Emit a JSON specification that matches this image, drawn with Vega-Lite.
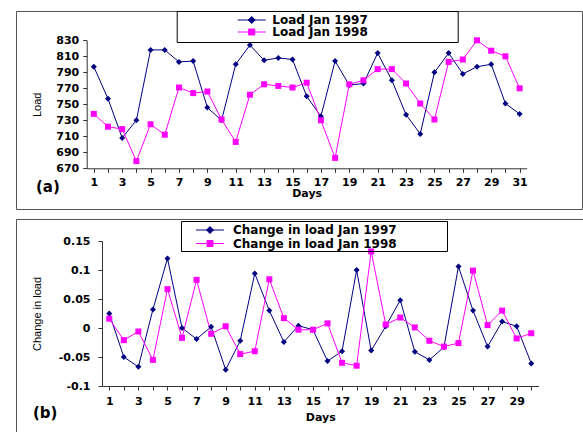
{
  "$schema": "https://vega.github.io/schema/vega-lite/v6.json",
  "background": "white",
  "padding": {"left": 15, "top": 10, "right": 0, "bottom": 0},
  "spacing": 10,
  "bounds": "flush",
  "datasets": {
    "load": [
      {"day": 1, "series": "Load Jan 1997", "load": 797}, {"day": 2, "series": "Load Jan 1997", "load": 757},
      {"day": 3, "series": "Load Jan 1997", "load": 708}, {"day": 4, "series": "Load Jan 1997", "load": 730},
      {"day": 5, "series": "Load Jan 1997", "load": 818}, {"day": 6, "series": "Load Jan 1997", "load": 818},
      {"day": 7, "series": "Load Jan 1997", "load": 803}, {"day": 8, "series": "Load Jan 1997", "load": 804},
      {"day": 9, "series": "Load Jan 1997", "load": 746}, {"day": 10, "series": "Load Jan 1997", "load": 730},
      {"day": 11, "series": "Load Jan 1997", "load": 800}, {"day": 12, "series": "Load Jan 1997", "load": 824},
      {"day": 13, "series": "Load Jan 1997", "load": 805}, {"day": 14, "series": "Load Jan 1997", "load": 808},
      {"day": 15, "series": "Load Jan 1997", "load": 806}, {"day": 16, "series": "Load Jan 1997", "load": 760},
      {"day": 17, "series": "Load Jan 1997", "load": 735}, {"day": 18, "series": "Load Jan 1997", "load": 804},
      {"day": 19, "series": "Load Jan 1997", "load": 774}, {"day": 20, "series": "Load Jan 1997", "load": 776},
      {"day": 21, "series": "Load Jan 1997", "load": 814}, {"day": 22, "series": "Load Jan 1997", "load": 780},
      {"day": 23, "series": "Load Jan 1997", "load": 737}, {"day": 24, "series": "Load Jan 1997", "load": 713},
      {"day": 25, "series": "Load Jan 1997", "load": 790}, {"day": 26, "series": "Load Jan 1997", "load": 814},
      {"day": 27, "series": "Load Jan 1997", "load": 788}, {"day": 28, "series": "Load Jan 1997", "load": 797},
      {"day": 29, "series": "Load Jan 1997", "load": 800}, {"day": 30, "series": "Load Jan 1997", "load": 751},
      {"day": 31, "series": "Load Jan 1997", "load": 738},
      {"day": 1, "series": "Load Jan 1998", "load": 738}, {"day": 2, "series": "Load Jan 1998", "load": 722},
      {"day": 3, "series": "Load Jan 1998", "load": 719}, {"day": 4, "series": "Load Jan 1998", "load": 679},
      {"day": 5, "series": "Load Jan 1998", "load": 725}, {"day": 6, "series": "Load Jan 1998", "load": 712},
      {"day": 7, "series": "Load Jan 1998", "load": 771}, {"day": 8, "series": "Load Jan 1998", "load": 764},
      {"day": 9, "series": "Load Jan 1998", "load": 766}, {"day": 10, "series": "Load Jan 1998", "load": 731},
      {"day": 11, "series": "Load Jan 1998", "load": 703}, {"day": 12, "series": "Load Jan 1998", "load": 762},
      {"day": 13, "series": "Load Jan 1998", "load": 775}, {"day": 14, "series": "Load Jan 1998", "load": 773},
      {"day": 15, "series": "Load Jan 1998", "load": 771}, {"day": 16, "series": "Load Jan 1998", "load": 777},
      {"day": 17, "series": "Load Jan 1998", "load": 730}, {"day": 18, "series": "Load Jan 1998", "load": 683},
      {"day": 19, "series": "Load Jan 1998", "load": 775}, {"day": 20, "series": "Load Jan 1998", "load": 780},
      {"day": 21, "series": "Load Jan 1998", "load": 794}, {"day": 22, "series": "Load Jan 1998", "load": 794},
      {"day": 23, "series": "Load Jan 1998", "load": 776}, {"day": 24, "series": "Load Jan 1998", "load": 751},
      {"day": 25, "series": "Load Jan 1998", "load": 731}, {"day": 26, "series": "Load Jan 1998", "load": 803},
      {"day": 27, "series": "Load Jan 1998", "load": 806}, {"day": 28, "series": "Load Jan 1998", "load": 830},
      {"day": 29, "series": "Load Jan 1998", "load": 817}, {"day": 30, "series": "Load Jan 1998", "load": 810},
      {"day": 31, "series": "Load Jan 1998", "load": 770}
    ],
    "change": [
      {"day": 1, "series": "Change in load Jan 1997", "change": 0.025}, {"day": 2, "series": "Change in load Jan 1997", "change": -0.05},
      {"day": 3, "series": "Change in load Jan 1997", "change": -0.067}, {"day": 4, "series": "Change in load Jan 1997", "change": 0.032},
      {"day": 5, "series": "Change in load Jan 1997", "change": 0.12}, {"day": 6, "series": "Change in load Jan 1997", "change": 0},
      {"day": 7, "series": "Change in load Jan 1997", "change": -0.019}, {"day": 8, "series": "Change in load Jan 1997", "change": 0.002},
      {"day": 9, "series": "Change in load Jan 1997", "change": -0.072}, {"day": 10, "series": "Change in load Jan 1997", "change": -0.022},
      {"day": 11, "series": "Change in load Jan 1997", "change": 0.094}, {"day": 12, "series": "Change in load Jan 1997", "change": 0.03},
      {"day": 13, "series": "Change in load Jan 1997", "change": -0.024}, {"day": 14, "series": "Change in load Jan 1997", "change": 0.004},
      {"day": 15, "series": "Change in load Jan 1997", "change": -0.003}, {"day": 16, "series": "Change in load Jan 1997", "change": -0.057},
      {"day": 17, "series": "Change in load Jan 1997", "change": -0.04}, {"day": 18, "series": "Change in load Jan 1997", "change": 0.1},
      {"day": 19, "series": "Change in load Jan 1997", "change": -0.039}, {"day": 20, "series": "Change in load Jan 1997", "change": 0.003},
      {"day": 21, "series": "Change in load Jan 1997", "change": 0.048}, {"day": 22, "series": "Change in load Jan 1997", "change": -0.041},
      {"day": 23, "series": "Change in load Jan 1997", "change": -0.055}, {"day": 24, "series": "Change in load Jan 1997", "change": -0.033},
      {"day": 25, "series": "Change in load Jan 1997", "change": 0.106}, {"day": 26, "series": "Change in load Jan 1997", "change": 0.03},
      {"day": 27, "series": "Change in load Jan 1997", "change": -0.032}, {"day": 28, "series": "Change in load Jan 1997", "change": 0.011},
      {"day": 29, "series": "Change in load Jan 1997", "change": 0.003}, {"day": 30, "series": "Change in load Jan 1997", "change": -0.061},
      {"day": 1, "series": "Change in load Jan 1998", "change": 0.016}, {"day": 2, "series": "Change in load Jan 1998", "change": -0.021},
      {"day": 3, "series": "Change in load Jan 1998", "change": -0.006}, {"day": 4, "series": "Change in load Jan 1998", "change": -0.055},
      {"day": 5, "series": "Change in load Jan 1998", "change": 0.067}, {"day": 6, "series": "Change in load Jan 1998", "change": -0.017},
      {"day": 7, "series": "Change in load Jan 1998", "change": 0.083}, {"day": 8, "series": "Change in load Jan 1998", "change": -0.01},
      {"day": 9, "series": "Change in load Jan 1998", "change": 0.003}, {"day": 10, "series": "Change in load Jan 1998", "change": -0.045},
      {"day": 11, "series": "Change in load Jan 1998", "change": -0.04}, {"day": 12, "series": "Change in load Jan 1998", "change": 0.084},
      {"day": 13, "series": "Change in load Jan 1998", "change": 0.017}, {"day": 14, "series": "Change in load Jan 1998", "change": -0.003},
      {"day": 15, "series": "Change in load Jan 1998", "change": -0.003}, {"day": 16, "series": "Change in load Jan 1998", "change": 0.008},
      {"day": 17, "series": "Change in load Jan 1998", "change": -0.06}, {"day": 18, "series": "Change in load Jan 1998", "change": -0.065},
      {"day": 19, "series": "Change in load Jan 1998", "change": 0.132}, {"day": 20, "series": "Change in load Jan 1998", "change": 0.006},
      {"day": 21, "series": "Change in load Jan 1998", "change": 0.018}, {"day": 22, "series": "Change in load Jan 1998", "change": 0.001},
      {"day": 23, "series": "Change in load Jan 1998", "change": -0.022}, {"day": 24, "series": "Change in load Jan 1998", "change": -0.032},
      {"day": 25, "series": "Change in load Jan 1998", "change": -0.026}, {"day": 26, "series": "Change in load Jan 1998", "change": 0.099},
      {"day": 27, "series": "Change in load Jan 1998", "change": 0.005}, {"day": 28, "series": "Change in load Jan 1998", "change": 0.03},
      {"day": 29, "series": "Change in load Jan 1998", "change": -0.018}, {"day": 30, "series": "Change in load Jan 1998", "change": -0.009}
    ]
  },
  "config": {
    "view": {"stroke": "#555", "strokeWidth": 1},
    "font": "DejaVu Sans",
    "axis": {
      "grid": false, "domainColor": "#333", "tickColor": "#333", "tickSize": 4,
      "labelFont": "DejaVu Sans", "labelFontWeight": "bold", "labelFontSize": 11, "labelColor": "#000",
      "titleColor": "#000", "labelFlush": false, "labelOverlap": false
    },
    "legend": {
      "title": null, "orient": "none", "direction": "vertical", "padding": 3,
      "symbolSize": 100, "rowPadding": 0, "symbolStrokeWidth": 1, "symbolOpacity": 1,
      "labelFont": "DejaVu Sans", "labelFontWeight": "bold", "labelFontSize": 12, "labelColor": "#000", "labelLimit": 400
    },
    "point": {"filled": true, "opacity": 1, "size": 36}
  },
  "resolve": {
    "scale": {"x": "independent", "y": "independent", "color": "independent", "fill": "independent"},
    "legend": {"color": "independent", "fill": "independent"}
  },
  "vconcat": [
    {
      "width": 566,
      "height": 198,
      "data": {"name": "load"},
      "title": {"text": "(a)", "orient": "bottom", "anchor": "start", "frame": "group", "offset": -29, "dx": 20, "fontSize": 15, "fontWeight": "bold", "font": "DejaVu Sans", "color": "#000"},
      "encoding": {
        "x": {
          "field": "day", "type": "quantitative",
          "scale": {"domain": [0.5, 31.5], "range": [70.7, 510.7], "nice": false, "zero": false},
          "axis": {
            "values": [1, 2, 3, 4, 5, 6, 7, 8, 9, 10, 11, 12, 13, 14, 15, 16, 17, 18, 19, 20, 21, 22, 23, 24, 25, 26, 27, 28, 29, 30, 31],
            "labelExpr": "datum.value % 2 == 1 ? datum.label : ''",
            "offset": -40.7, "labelPadding": 4,
            "title": "Days", "titleFont": "DejaVu Sans", "titleFontWeight": "bold", "titleFontSize": 11, "titlePadding": 0
          }
        },
        "y": {
          "field": "load", "type": "quantitative",
          "scale": {"domain": [670, 830], "range": [157.3, 29.3], "nice": false, "zero": false},
          "axis": {
            "values": [670, 690, 710, 730, 750, 770, 790, 810, 830],
            "offset": -70.7, "labelPadding": 4,
            "title": "Load", "titleFont": "Liberation Sans Narrow, Liberation Sans", "titleFontWeight": "normal", "titleFontSize": 11, "titlePadding": 13
          }
        }
      },
      "layer": [
        {
          "mark": {"type": "line", "strokeWidth": 1},
          "encoding": {
            "color": {
              "field": "series", "type": "nominal",
              "scale": {"domain": ["Load Jan 1997", "Load Jan 1998"], "range": ["#000080", "#ff00ff"]},
              "legend": {
                "values": ["Load Jan 1997"],
                "legendX": 160.7, "legendY": 0, "symbolOffset": 66, "labelOffset": 14.6,
                "strokeColor": "#000",
                "symbolType": "M-2.8,0H2.8M0,-0.7L0.7,0L0,0.7L-0.7,0ZM40.2,3.3",
                "symbolFillColor": "#000080", "symbolStrokeColor": "#000080"
              }
            }
          }
        },
        {
          "transform": [{"filter": "datum.series == 'Load Jan 1997'"}],
          "mark": {"type": "point", "shape": "diamond", "color": "#000080"}
        },
        {
          "transform": [{"filter": "datum.series == 'Load Jan 1998'"}],
          "mark": {"type": "point", "shape": "square"},
          "encoding": {
            "fill": {
              "field": "series", "type": "nominal",
              "scale": {"domain": ["Load Jan 1998"], "range": ["#ff00ff"]},
              "legend": {
                "legendX": 160.7, "legendY": 12, "symbolOffset": 66, "labelOffset": 14.6,
                "symbolType": "M-2.8,0H2.8M-0.6,-0.6H0.6V0.6H-0.6Z",
                "symbolFillColor": "#ff00ff", "symbolStrokeColor": "#ff00ff"
              }
            }
          }
        }
      ]
    },
    {
      "width": 567,
      "height": 213,
      "data": {"name": "change"},
      "title": {"text": "(b)", "orient": "bottom", "anchor": "start", "frame": "group", "offset": -26, "dx": 17, "fontSize": 15, "fontWeight": "bold", "font": "DejaVu Sans", "color": "#000"},
      "encoding": {
        "x": {
          "field": "day", "type": "quantitative",
          "scale": {"domain": [0.5, 30.5], "range": [86, 522.5], "nice": false, "zero": false},
          "axis": {
            "values": [1, 2, 3, 4, 5, 6, 7, 8, 9, 10, 11, 12, 13, 14, 15, 16, 17, 18, 19, 20, 21, 22, 23, 24, 25, 26, 27, 28, 29, 30],
            "labelExpr": "datum.value % 2 == 1 ? datum.label : ''",
            "offset": -46, "labelPadding": 5,
            "title": "Days", "titleFont": "DejaVu Sans", "titleFontWeight": "bold", "titleFontSize": 11, "titlePadding": 5
          }
        },
        "y": {
          "field": "change", "type": "quantitative",
          "scale": {"domain": [-0.1, 0.15], "range": [167, 22], "nice": false, "zero": false},
          "axis": {
            "values": [-0.1, -0.05, 0, 0.05, 0.1, 0.15],
            "labelExpr": "toString(datum.value)",
            "offset": -86, "labelPadding": 8,
            "title": "Change in load", "titleFont": "Liberation Sans Narrow, Liberation Sans", "titleFontWeight": "normal", "titleFontSize": 11, "titlePadding": 16
          }
        }
      },
      "layer": [
        {
          "mark": {"type": "line", "strokeWidth": 1},
          "encoding": {
            "color": {
              "field": "series", "type": "nominal",
              "scale": {"domain": ["Change in load Jan 1997", "Change in load Jan 1998"], "range": ["#000080", "#ff00ff"]},
              "legend": {
                "values": ["Change in load Jan 1997"],
                "legendX": 165, "legendY": 2, "symbolOffset": 20, "labelOffset": 17,
                "strokeColor": "#000",
                "symbolType": "M-2.8,0H2.8M0,-0.7L0.7,0L0,0.7L-0.7,0ZM46.3,3.1",
                "symbolFillColor": "#000080", "symbolStrokeColor": "#000080"
              }
            }
          }
        },
        {
          "transform": [{"filter": "datum.series == 'Change in load Jan 1997'"}],
          "mark": {"type": "point", "shape": "diamond", "color": "#000080"}
        },
        {
          "transform": [{"filter": "datum.series == 'Change in load Jan 1998'"}],
          "mark": {"type": "point", "shape": "square"},
          "encoding": {
            "fill": {
              "field": "series", "type": "nominal",
              "scale": {"domain": ["Change in load Jan 1998"], "range": ["#ff00ff"]},
              "legend": {
                "legendX": 165, "legendY": 15.5, "symbolOffset": 20, "labelOffset": 17,
                "symbolType": "M-2.8,0H2.8M-0.6,-0.6H0.6V0.6H-0.6Z",
                "symbolFillColor": "#ff00ff", "symbolStrokeColor": "#ff00ff"
              }
            }
          }
        }
      ]
    }
  ]
}
